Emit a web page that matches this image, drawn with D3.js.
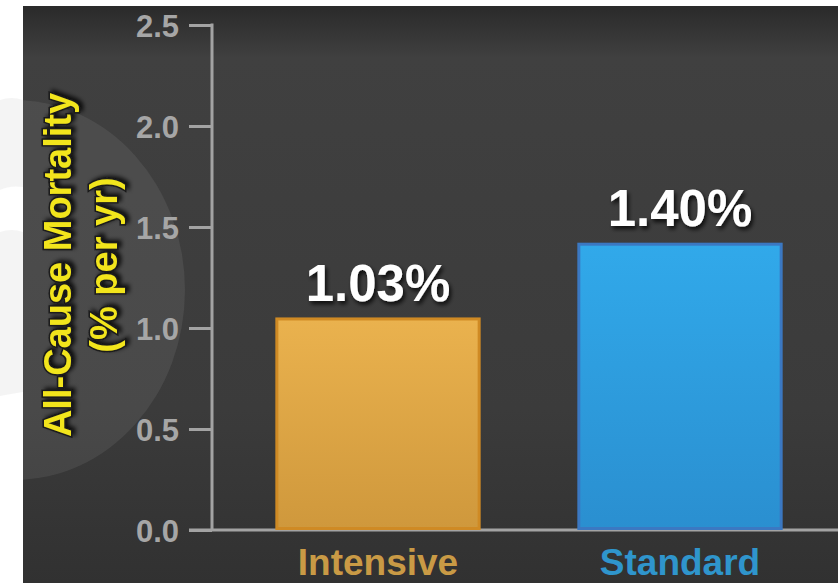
<!DOCTYPE html>
<html>
<head>
<meta charset="utf-8">
<script src="https://cdn.jsdelivr.net/npm/d3@7"></script>
<style>
  html, body { margin: 0; padding: 0; background: #fff; }
  svg { display: block; }
  text { font-family: "Liberation Sans", Arial, sans-serif; font-weight: bold; }
</style>
</head>
<body>
<div class="chart"></div>
<script>
var categories = ['Intensive', 'Standard'];
var mortality = [1.03, 1.40];
var valueLabels = ['1.03%', '1.40%'];
var yTicks = [0, 0.5, 1.0, 1.5, 2.0, 2.5];

var width = 838, height = 583;
var panel = {x: 23, y: 6};

var svg = d3.select('.chart').append('svg')
    .attr('width', width)
    .attr('height', height);

var defs = svg.append('defs');

var bg = defs.append('linearGradient').attr('id', 'bg')
    .attr('x1', 0).attr('y1', 0).attr('x2', 0).attr('y2', 1);
bg.append('stop').attr('offset', '0%').attr('stop-color', '#2a2a2a');
bg.append('stop').attr('offset', '9%').attr('stop-color', '#404040');
bg.append('stop').attr('offset', '70%').attr('stop-color', '#3b3b3b');
bg.append('stop').attr('offset', '100%').attr('stop-color', '#313131');

var barGrads = [
    {id: 'g0', top: '#eab24e', bottom: '#cf983c'},
    {id: 'g1', top: '#31a9ea', bottom: '#2a8fd0'}
];
barGrads.forEach(function(g) {
    var lg = defs.append('linearGradient').attr('id', g.id)
        .attr('x1', 0).attr('y1', 0).attr('x2', 0).attr('y2', 1);
    lg.append('stop').attr('offset', '0%').attr('stop-color', g.top);
    lg.append('stop').attr('offset', '100%').attr('stop-color', g.bottom);
});

var shadow = defs.append('filter').attr('id', 'shadow')
    .attr('x', '-20%').attr('y', '-20%').attr('width', '140%').attr('height', '140%');
shadow.append('feDropShadow').attr('dx', 2).attr('dy', 3)
    .attr('stdDeviation', 2).attr('flood-color', '#000').attr('flood-opacity', 0.8);

defs.append('clipPath').attr('id', 'panelClip')
    .append('rect').attr('x', panel.x).attr('y', panel.y)
    .attr('width', width - panel.x).attr('height', height - panel.y);

// dark panel
svg.append('rect')
    .attr('x', panel.x).attr('y', panel.y)
    .attr('width', width - panel.x).attr('height', height - panel.y)
    .attr('fill', 'url(#bg)');

// faint watermark shape on the left
svg.append('ellipse')
    .attr('clip-path', 'url(#panelClip)')
    .attr('cx', 15).attr('cy', 290).attr('rx', 170).attr('ry', 190)
    .attr('fill', 'rgba(167,167,167,0.13)');
svg.append('path')
    .attr('d', 'M0,100 Q12,96 23,100 L23,187 Q10,185 0,190 Z M0,232 Q12,228 23,232 L23,392 Q10,394 0,396 Z')
    .attr('fill', 'rgba(167,167,167,0.12)');

var y = d3.scaleLinear().domain([0, 2.5]).range([530, 25]);
var x = d3.scaleBand().domain(categories).range([227, 831])
    .paddingInner(0.33).paddingOuter(0.165);

// axes
var yAxis = d3.axisLeft(y).tickValues(yTicks).tickFormat(d3.format('.1f'))
    .tickSize(23).tickPadding(10);
var gy = svg.append('g').attr('transform', 'translate(212,0)').call(yAxis);
gy.select('.domain').remove();
gy.selectAll('line').attr('stroke', '#a3a3a3').attr('stroke-width', 3);
gy.selectAll('text')
    .attr('fill', '#a6a6a6')
    .attr('font-size', 31)
    .attr('dy', '0.36em')
    .style('font-family', '"Liberation Sans", Arial, sans-serif');

svg.append('line')
    .attr('x1', 212).attr('x2', 212)
    .attr('y1', y(2.5) - 1.5).attr('y2', y(0))
    .attr('stroke', '#a3a3a3').attr('stroke-width', 3);
svg.append('line')
    .attr('x1', 189).attr('x2', width)
    .attr('y1', y(0)).attr('y2', y(0))
    .attr('stroke', '#a3a3a3').attr('stroke-width', 3);

// bars
var barStroke = ['#cf8a24', '#3b78c2'];
svg.selectAll('.bar')
    .data(mortality)
    .enter().append('rect')
    .attr('class', 'bar')
    .attr('x', function(d, i) { return x(categories[i]); })
    .attr('y', function(d) { return y(d) - 3; })
    .attr('width', x.bandwidth())
    .attr('height', function(d) { return y(0) - y(d) + 1.5; })
    .attr('fill', function(d, i) { return 'url(#g' + i + ')'; })
    .attr('stroke', function(d, i) { return barStroke[i]; })
    .attr('stroke-width', 3);

// value labels
svg.selectAll('.val')
    .data(mortality)
    .enter().append('text')
    .attr('class', 'val')
    .attr('x', function(d, i) { return x(categories[i]) + x.bandwidth() / 2; })
    .attr('y', function(d) { return y(d) - 21; })
    .attr('text-anchor', 'middle')
    .attr('font-size', 51)
    .attr('fill', '#ffffff')
    .attr('filter', 'url(#shadow)')
    .text(function(d, i) { return valueLabels[i]; });

// category labels
var catColors = ['#c99a45', '#2f95cc'];
svg.selectAll('.cat')
    .data(categories)
    .enter().append('text')
    .attr('class', 'cat')
    .attr('x', function(d) { return x(d) + x.bandwidth() / 2; })
    .attr('y', 575)
    .attr('text-anchor', 'middle')
    .attr('font-size', 37)
    .attr('fill', function(d, i) { return catColors[i]; })
    .text(function(d) { return d; });

// y axis title
var title = svg.append('g')
    .attr('transform', 'translate(0,265) rotate(-90)');
[['All-Cause Mortality', 71], ['(% per yr)', 117]].forEach(function(t) {
    title.append('text')
        .attr('x', 0).attr('y', t[1])
        .attr('text-anchor', 'middle')
        .attr('font-size', 38)
        .attr('fill', '#f2e51e')
        .attr('stroke', '#1a1a1a')
        .attr('stroke-width', 3)
        .attr('paint-order', 'stroke')
        .attr('filter', 'url(#shadow)')
        .text(t[0]);
});
</script>
</body>
</html>
